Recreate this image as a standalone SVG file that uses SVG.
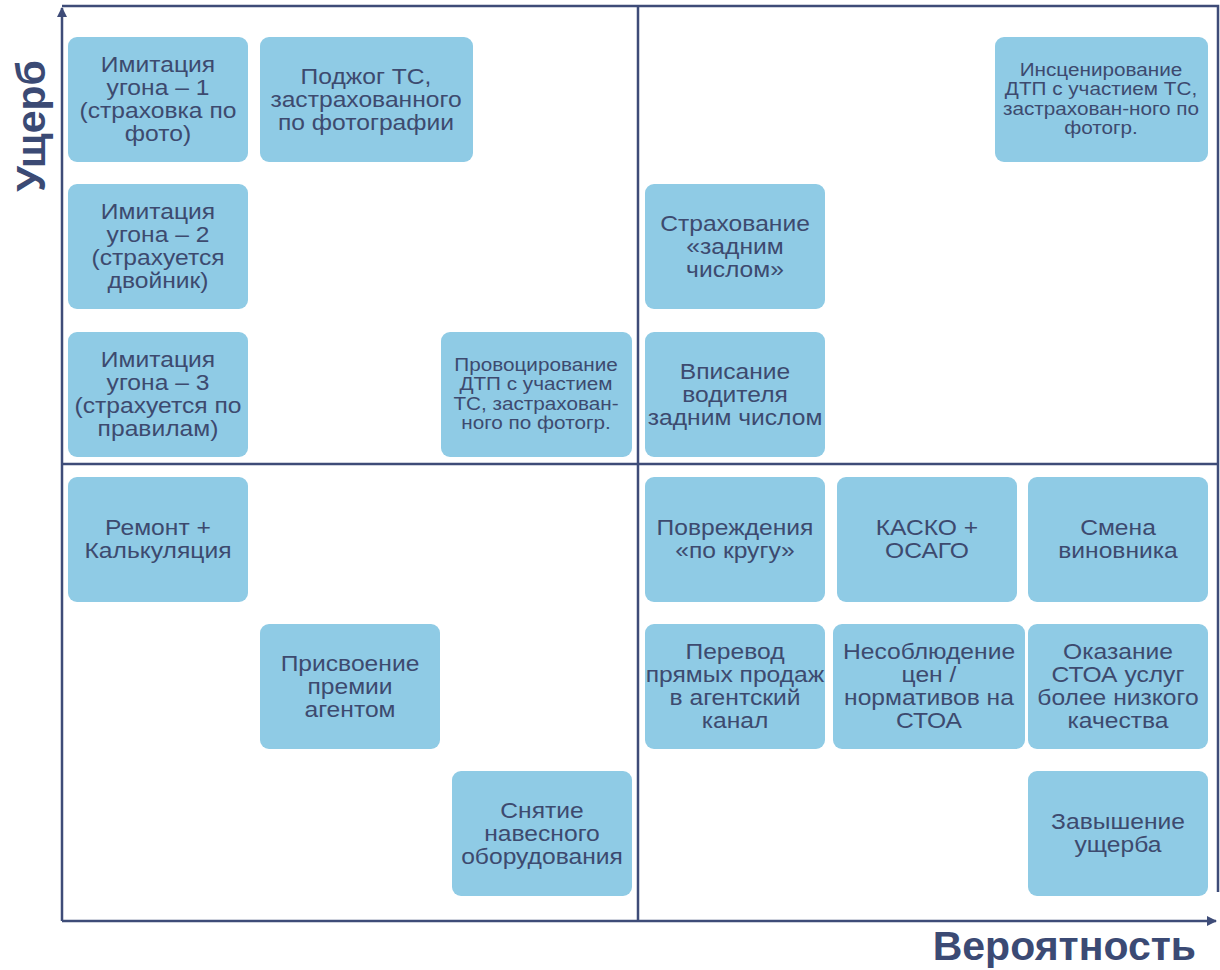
<svg xmlns="http://www.w3.org/2000/svg" width="1220" height="970" viewBox="0 0 1220 970">
<defs>
<style>
.box{fill:#8fcbe5;}
.t{font-family:"Liberation Sans",Arial,sans-serif;font-size:22px;fill:#3d4a6f;text-anchor:middle;}
.s{font-size:18.5px;}
.ax{stroke:#3e4c78;stroke-width:2.5;fill:none;}
.lbl{font-family:"Liberation Sans",Arial,sans-serif;font-size:41px;font-weight:bold;fill:#3b4a74;}
</style>
<marker id="ah" viewBox="0 0 10 10" refX="9" refY="5" markerWidth="4" markerHeight="4" orient="auto" markerUnits="strokeWidth">
<path d="M0,0 L10,5 L0,10 z" fill="#3e4c78"/>
</marker>
</defs>
<rect width="1220" height="970" fill="#ffffff"/>
<g id="connectors">
<path class="ax" d="M62,6 L1218,6 L1218,892"/>
<path class="ax" d="M62,921 L62,8" marker-end="url(#ah)"/>
<path class="ax" d="M62,921 L1216,921" marker-end="url(#ah)"/>
<path class="ax" d="M62,464 L1218,464"/>
<path class="ax" d="M638,6 L638,921"/>
</g>
<g id="label-y"><text class="lbl" transform="translate(45,126) rotate(-90)" text-anchor="middle">Ущерб</text></g>
<g id="label-x"><text class="lbl" x="1196" y="960" text-anchor="end">Вероятность</text></g>

<g id="n1"><rect class="box" x="68" y="37" width="180" height="125" rx="9"/>
<text class="t" transform="translate(158,0) scale(1.12,1)" y="72"><tspan x="0">Имитация</tspan><tspan x="0" dy="23">угона – 1</tspan><tspan x="0" dy="23">(страховка по</tspan><tspan x="0" dy="23">фото)</tspan></text></g>
<g id="n2"><rect class="box" x="260" y="37" width="213" height="125" rx="9"/>
<text class="t" transform="translate(366,0) scale(1.12,1)" y="84"><tspan x="0">Поджог ТС,</tspan><tspan x="0" dy="23">застрахованного</tspan><tspan x="0" dy="23">по фотографии</tspan></text></g>
<g id="n3"><rect class="box" x="995" y="37" width="213" height="125" rx="9"/>
<text class="t s" transform="translate(1101,0) scale(1.12,1)" y="76"><tspan x="0">Инсценирование</tspan><tspan x="0" dy="19.5">ДТП с участием ТС,</tspan><tspan x="0" dy="19.5">застрахован-ного по</tspan><tspan x="0" dy="19.5">фотогр.</tspan></text></g>
<g id="n4"><rect class="box" x="68" y="184" width="180" height="125" rx="9"/>
<text class="t" transform="translate(158,0) scale(1.12,1)" y="219"><tspan x="0">Имитация</tspan><tspan x="0" dy="23">угона – 2</tspan><tspan x="0" dy="23">(страхуется</tspan><tspan x="0" dy="23">двойник)</tspan></text></g>
<g id="n5"><rect class="box" x="645" y="184" width="180" height="125" rx="9"/>
<text class="t" transform="translate(735,0) scale(1.12,1)" y="231"><tspan x="0">Страхование</tspan><tspan x="0" dy="23">«задним</tspan><tspan x="0" dy="23">числом»</tspan></text></g>
<g id="n6"><rect class="box" x="68" y="332" width="180" height="125" rx="9"/>
<text class="t" transform="translate(158,0) scale(1.12,1)" y="367"><tspan x="0">Имитация</tspan><tspan x="0" dy="23">угона – 3</tspan><tspan x="0" dy="23">(страхуется по</tspan><tspan x="0" dy="23">правилам)</tspan></text></g>
<g id="n7"><rect class="box" x="441" y="332" width="191" height="125" rx="9"/>
<text class="t s" transform="translate(536,0) scale(1.12,1)" y="371"><tspan x="0">Провоцирование</tspan><tspan x="0" dy="19.5">ДТП с участием</tspan><tspan x="0" dy="19.5">ТС, застрахован-</tspan><tspan x="0" dy="19.5">ного по фотогр.</tspan></text></g>
<g id="n8"><rect class="box" x="645" y="332" width="180" height="125" rx="9"/>
<text class="t" transform="translate(735,0) scale(1.12,1)" y="379"><tspan x="0">Вписание</tspan><tspan x="0" dy="23">водителя</tspan><tspan x="0" dy="23">задним числом</tspan></text></g>
<g id="n9"><rect class="box" x="68" y="477" width="180" height="125" rx="9"/>
<text class="t" transform="translate(158,0) scale(1.12,1)" y="535"><tspan x="0">Ремонт +</tspan><tspan x="0" dy="23">Калькуляция</tspan></text></g>
<g id="n10"><rect class="box" x="645" y="477" width="180" height="125" rx="9"/>
<text class="t" transform="translate(735,0) scale(1.12,1)" y="535"><tspan x="0">Повреждения</tspan><tspan x="0" dy="23">«по кругу»</tspan></text></g>
<g id="n11"><rect class="box" x="837" y="477" width="180" height="125" rx="9"/>
<text class="t" transform="translate(927,0) scale(1.12,1)" y="535"><tspan x="0">КАСКО +</tspan><tspan x="0" dy="23">ОСАГО</tspan></text></g>
<g id="n12"><rect class="box" x="1028" y="477" width="180" height="125" rx="9"/>
<text class="t" transform="translate(1118,0) scale(1.12,1)" y="535"><tspan x="0">Смена</tspan><tspan x="0" dy="23">виновника</tspan></text></g>
<g id="n13"><rect class="box" x="260" y="624" width="180" height="125" rx="9"/>
<text class="t" transform="translate(350,0) scale(1.12,1)" y="671"><tspan x="0">Присвоение</tspan><tspan x="0" dy="23">премии</tspan><tspan x="0" dy="23">агентом</tspan></text></g>
<g id="n14"><rect class="box" x="645" y="624" width="180" height="125" rx="9"/>
<text class="t" transform="translate(735,0) scale(1.12,1)" y="659"><tspan x="0">Перевод</tspan><tspan x="0" dy="23">прямых продаж</tspan><tspan x="0" dy="23">в агентский</tspan><tspan x="0" dy="23">канал</tspan></text></g>
<g id="n15"><rect class="box" x="833" y="624" width="192" height="125" rx="9"/>
<text class="t" transform="translate(929,0) scale(1.12,1)" y="659"><tspan x="0">Несоблюдение</tspan><tspan x="0" dy="23">цен /</tspan><tspan x="0" dy="23">нормативов на</tspan><tspan x="0" dy="23">СТОА</tspan></text></g>
<g id="n16"><rect class="box" x="1028" y="624" width="180" height="125" rx="9"/>
<text class="t" transform="translate(1118,0) scale(1.12,1)" y="659"><tspan x="0">Оказание</tspan><tspan x="0" dy="23">СТОА услуг</tspan><tspan x="0" dy="23">более низкого</tspan><tspan x="0" dy="23">качества</tspan></text></g>
<g id="n17"><rect class="box" x="452" y="771" width="180" height="125" rx="9"/>
<text class="t" transform="translate(542,0) scale(1.12,1)" y="818"><tspan x="0">Снятие</tspan><tspan x="0" dy="23">навесного</tspan><tspan x="0" dy="23">оборудования</tspan></text></g>
<g id="n18"><rect class="box" x="1028" y="771" width="180" height="125" rx="9"/>
<text class="t" transform="translate(1118,0) scale(1.12,1)" y="829"><tspan x="0">Завышение</tspan><tspan x="0" dy="23">ущерба</tspan></text></g>
</svg>
